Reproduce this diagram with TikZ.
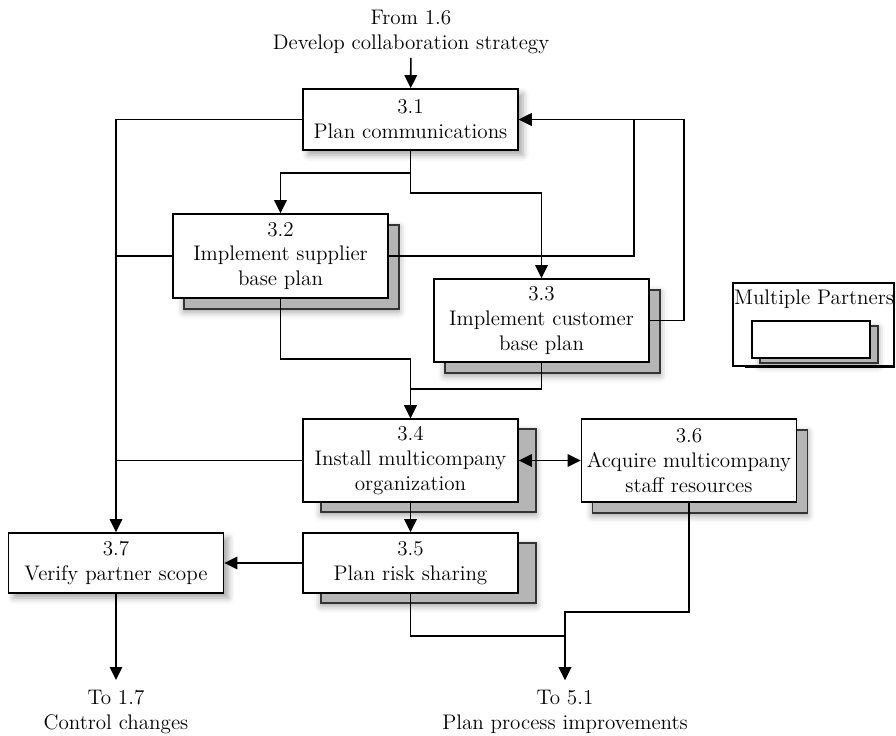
\documentclass[tikz,border=0pt]{standalone}
\usetikzlibrary{arrows.meta,shadows,shadows.blur}

\begin{document}
\begin{tikzpicture}[
    x=0.02cm, y=-0.02cm,
    txt/.style={font=\fontsize{12}{14.2}\selectfont, align=center, inner sep=0pt},
    cell/.style={txt, draw, fill=white, line width=1pt, minimum width=4.3cm},
    task/.style={cell, blur shadow={shadow xshift=1mm, shadow yshift=-1mm, shadow blur radius=1.2mm, shadow opacity=35}},
    multi/.style 2 args={cell,
      blur shadow={shadow xshift=#1, shadow yshift=-#2-0.5mm, shadow blur radius=1.4mm, shadow opacity=40},
      copy shadow={shadow xshift=#1, shadow yshift=-#2, fill=gray!58, draw=black!80, line width=1pt}},
    link/.style={line width=0.9pt},
    flow/.style={link, -{Triangle[length=2.6mm, width=2.5mm]}},
    two/.style={link, {Triangle[length=2.6mm, width=2.5mm]}-{Triangle[length=2.6mm, width=2.5mm]}}
  ]
    \useasboundingbox (0,0) rectangle (896,735);

    \node[txt, anchor=north] (src) at (411,10) {From 1.6\\Develop collaboration strategy};
    \node[task, minimum height=1.22cm] (p31) at (410.5,119.5) {3.1\\Plan communications};
    \node[multi={2.2mm}{2.2mm}, minimum height=1.68cm] (p32) at (280.5,256) {3.2\\Implement supplier\\base plan};
    \node[multi={2.2mm}{2.2mm}, minimum height=1.66cm] (p33) at (541.5,320.5) {3.3\\Implement customer\\base plan};
    \node[multi={3.6mm}{2mm}, minimum height=1.66cm] (p34) at (410.5,460.5) {3.4\\Install multicompany\\organization};
    \node[multi={2.2mm}{2.2mm}, minimum height=1.66cm] (p36) at (689,460.5) {3.6\\Acquire multicompany\\staff resources};
    \node[multi={3.6mm}{2mm}, minimum height=1.2cm] (p35) at (410.5,563) {3.5\\Plan risk sharing};
    \node[task, minimum height=1.2cm] (p37) at (116,563) {3.7\\Verify partner scope};
    \node[txt, anchor=north] (dst1) at (116,690) {To 1.7\\Control changes};
    \node[txt, anchor=north] (dst2) at (565,690) {To 5.1\\Plan process improvements};

    \node[draw, line width=0.8pt, minimum width=3.22cm, minimum height=1.66cm] (lg) at (813.5,324.5) {};
    \node[txt, anchor=north] (lgt) at (814,290) {Multiple Partners};
    \node[multi={1.6mm}{1mm}, minimum width=2.36cm, minimum height=0.74cm] (lgb) at (811,339.5) {};
    \draw[line width=1.8pt] ([xshift=-3cm]lg.south east) -- (lg.south east);

    \draw[flow, shorten <=2pt] (src) -- (p31);
    \draw[flow] (p31.west) -| (p37.north);
    \draw[link] (p32.west) -- (p32.west -| p37.north);
    \draw[link] (p34.west) -- (p34.west -| p37.north);
    \draw[flow] (p31.south) -- ++(0,22) -| (p32.north);
    \draw[flow] (p31.south) -- ++(0,42) -| (p33.north);
    \draw[flow] (p32.east) -- ++(245,0) |- (p31.east);
    \draw[flow] (p33.east) -- ++(34,0) |- (p31.east);
    \draw[flow] (p32.south) -- ++(0,60) -| (p34.north);
    \draw[flow] (p33.south) -- ++(0,26) -| (p34.north);
    \draw[two] (p34.east) -- (p36.west);
    \draw[flow] (p34) -- (p35);
    \draw[flow] (p35) -- (p37);
    \draw[flow, shorten >=0.2cm] (p37) -- (dst1);
    \draw[flow, shorten >=0.2cm] (p35.south) -- ++(0,42) -| (dst2.north);
    \draw[flow, shorten >=0.2cm] (p36.south) -- ++(0,109) -| (dst2.north);
  \end{tikzpicture}
\end{document}
